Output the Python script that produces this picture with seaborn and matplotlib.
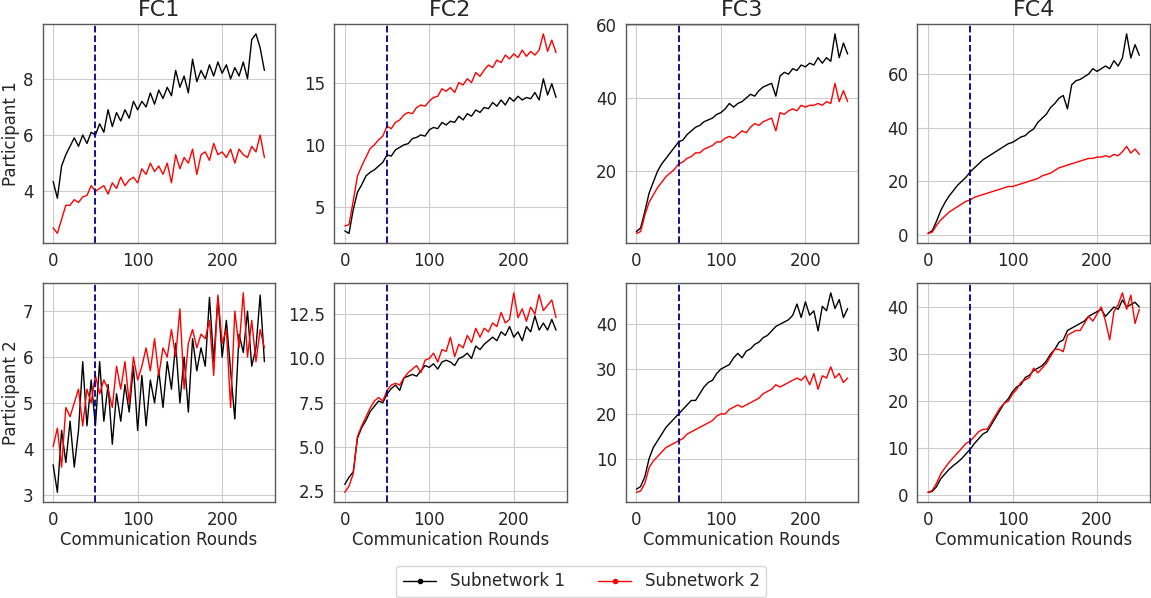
import pandas as pd
import matplotlib
matplotlib.use('Agg')
import matplotlib.pyplot as plt
from matplotlib.lines import Line2D
import seaborn as sns

sns.set_style('whitegrid', {'axes.edgecolor': '0.35', 'grid.color': '0.8'})
plt.rcParams['font.family'] = ['DejaVu Sans']

# communication rounds, sampled every 5 rounds
rounds = list(range(0, 251, 5))

layers = ['FC1', 'FC2', 'FC3', 'FC4']
participants = ['Participant 1', 'Participant 2']
subnetworks = ['Subnetwork 1', 'Subnetwork 2']

# participant 1
p1_fc1_sub1 = [4.35, 3.75, 4.9, 5.3, 5.6, 5.9, 5.6, 6.0, 5.7, 6.1, 6.0, 6.4, 6.1, 6.9, 6.3, 6.8,
               6.5, 6.9, 6.6, 7.2, 6.9, 7.2, 7.0, 7.5, 7.1, 7.6, 7.3, 7.7, 7.4, 8.3, 7.7, 8.1,
               7.5, 8.7, 7.9, 8.3, 8.0, 8.5, 8.1, 8.6, 8.2, 8.5, 8.0, 8.4, 8.1, 8.6, 8.0, 9.4,
               9.6, 9.1, 8.3]
p1_fc1_sub2 = [2.7, 2.5, 3.0, 3.5, 3.5, 3.7, 3.6, 3.8, 3.85, 4.2, 4.0, 4.1, 4.2, 3.9, 4.3, 4.1,
               4.5, 4.2, 4.4, 4.5, 4.3, 4.8, 4.6, 5.0, 4.7, 4.9, 4.6, 5.0, 4.3, 5.3, 4.8, 5.2,
               5.0, 5.5, 4.6, 5.3, 5.4, 5.1, 5.7, 5.3, 5.4, 5.2, 5.5, 5.0, 5.5, 5.3, 5.2, 5.6,
               5.4, 6.0, 5.2]
p1_fc2_sub1 = [3.1, 2.9, 4.8, 6.2, 6.8, 7.5, 7.8, 8.0, 8.3, 8.6, 9.2, 9.1, 9.6, 9.8, 10.0, 10.1,
               10.5, 10.6, 10.8, 10.7, 11.2, 11.4, 11.3, 11.8, 11.6, 11.9, 11.8, 12.3, 12.0, 12.5,
               12.3, 12.8, 12.6, 13.0, 12.9, 13.4, 13.1, 13.6, 13.2, 13.8, 13.5, 13.9, 13.6, 13.8,
               13.7, 14.2, 13.6, 15.3, 14.0, 14.9, 13.8]
p1_fc2_sub2 = [3.5, 3.6, 5.5, 7.5, 8.3, 9.0, 9.7, 10.0, 10.4, 10.7, 11.5, 11.3, 11.8, 12.0, 12.4,
               12.6, 12.5, 13.0, 13.2, 13.1, 13.5, 13.8, 13.9, 14.5, 14.3, 14.6, 14.2, 15.0, 14.8,
               15.3, 15.0, 15.8, 15.5, 16.0, 16.4, 16.2, 16.8, 16.6, 17.2, 16.9, 17.3, 17.0, 17.6,
               17.1, 17.5, 17.2, 17.6, 18.9, 17.5, 18.4, 17.4]
p1_fc3_sub1 = [3.5, 4.5, 9, 14, 17, 20, 22, 23.5, 25, 26.5, 28, 28.5, 30, 31, 32, 32.5, 33.5, 34,
               34.5, 35.5, 36, 37, 38.5, 37.5, 38.5, 39, 40, 41, 40.5, 42, 43, 43.5, 44, 40.5, 46,
               47, 46.5, 48, 47.5, 49, 48.5, 49.5, 49, 51, 49.5, 51, 50, 57.5, 51, 55, 52]
p1_fc3_sub2 = [3, 3.5, 8, 11.5, 13.5, 15.5, 17, 18.5, 19.5, 20.5, 22, 22.5, 23.5, 24, 25, 25, 26,
               26.5, 27, 28, 28, 29, 29.5, 29, 30, 31, 30.5, 32, 33, 32.5, 33.5, 34, 34.5, 31, 36,
               35.5, 36.5, 37, 36.5, 38, 37.5, 38, 38, 38.5, 38, 39, 38.5, 44, 39, 42, 39]
p1_fc4_sub1 = [0.5, 1.5, 5, 9, 12, 14.5, 16.5, 18.5, 20, 21.5, 23.5, 25, 26.5, 28, 29, 30, 31, 32,
               33, 34, 34.5, 35.5, 36.5, 37, 38.5, 39.5, 42, 43.5, 45, 47.5, 49, 51, 52, 47, 56,
               57.5, 58, 59, 60, 62, 61, 62, 63, 62, 65, 63, 66, 75, 66, 71, 67]
p1_fc4_sub2 = [0.5, 1, 3.5, 5.5, 7, 8.5, 9.5, 10.5, 11.5, 12.5, 13, 14, 14.5, 15, 15.5, 16, 16.5,
               17, 17.5, 18, 18, 18.5, 19, 19.5, 20, 20.5, 21, 22, 22.5, 23, 24, 25, 25.5, 26,
               26.5, 27, 27.5, 28, 28.5, 28.5, 29, 29, 29.5, 29, 30, 29.5, 31, 33, 30.5, 32, 30]

# participant 2
p2_fc1_sub1 = [3.65, 3.05, 4.4, 3.7, 4.6, 3.6, 4.4, 5.9, 4.5, 5.5, 4.5, 5.9, 4.6, 5.4, 4.1, 5.2,
               4.6, 5.4, 4.8, 5.8, 4.4, 5.6, 4.5, 5.5, 5.0, 5.7, 4.9, 5.9, 5.3, 6.3, 5.0, 6.0,
               4.8, 6.4, 5.7, 6.2, 5.8, 7.3, 5.9, 7.3, 6.0, 6.8, 5.7, 4.65, 6.5, 6.1, 7.0, 5.8,
               6.2, 7.35, 5.9]
p2_fc1_sub2 = [4.05, 4.45, 3.6, 4.9, 4.7, 5.0, 5.3, 4.5, 5.3, 5.0, 5.6, 5.2, 5.5, 5.3, 4.9, 5.8,
               5.3, 5.9, 5.0, 6.0, 5.5, 5.8, 6.2, 5.7, 6.4, 5.6, 6.2, 6.0, 6.6, 6.0, 7.05, 5.3,
               6.3, 6.6, 6.2, 6.5, 6.4, 6.8, 5.6, 7.35, 6.3, 6.6, 4.9, 7.0, 6.2, 7.4, 6.0, 6.8,
               5.9, 6.6, 6.2]
p2_fc2_sub1 = [2.9, 3.3, 3.6, 5.5, 6.1, 6.5, 7.0, 7.3, 7.6, 7.5, 8.0, 8.3, 8.5, 8.2, 8.9, 9.0,
               9.1, 9.0, 9.3, 9.6, 9.5, 9.7, 9.4, 9.8, 9.9, 9.8, 9.6, 10.0, 10.1, 10.3, 10.0, 10.7,
               10.5, 10.8, 11.0, 11.2, 11.0, 11.5, 11.3, 11.8, 11.2, 11.5, 11.0, 11.8, 11.5, 12.4,
               11.6, 12.0, 11.6, 12.2, 11.6]
p2_fc2_sub2 = [2.45, 2.8, 3.5, 5.6, 6.2, 6.7, 7.2, 7.6, 7.8, 7.6, 8.2, 8.5, 8.6, 8.5, 8.9, 9.2,
               9.4, 9.6, 9.2, 9.9, 10.0, 10.3, 9.8, 10.5, 10.4, 11.2, 10.1, 10.8, 10.6, 11.3, 10.9,
               11.7, 11.2, 11.7, 11.5, 12.0, 11.8, 12.6, 12.0, 12.2, 13.7, 12.3, 12.8, 12.1, 12.9,
               12.5, 13.6, 12.7, 13.0, 13.3, 12.3]
p2_fc3_sub1 = [3.2, 3.8, 6, 10, 12.5, 14, 15.5, 17, 18, 19, 20, 21, 22, 23, 23, 24.5, 26, 27,
               27.5, 29, 30, 30.5, 31, 32.5, 33.5, 32.5, 34, 34.5, 35.5, 36, 37, 37.5, 38.5, 39.5,
               40, 40.5, 41, 42, 44.5, 41.5, 45, 42, 43, 38.5, 44, 43, 47, 43.5, 45.5, 41.5, 43.5]
p2_fc3_sub2 = [2.5, 2.8, 4.5, 8, 9.5, 10.5, 11.5, 12.5, 13, 13.5, 14, 14.5, 15.5, 16, 16.5, 17,
               17.5, 18, 18.5, 19.5, 20, 20, 21, 21.5, 22, 21.5, 22, 22.5, 23, 23.5, 24.5, 25,
               25.5, 26.5, 26, 26.5, 27, 27.5, 28, 27.5, 28.5, 26.5, 29, 25.5, 28.5, 28, 30.5, 28,
               29, 27, 28]
p2_fc4_sub1 = [0.6, 0.8, 1.8, 3.5, 4.5, 5.5, 6.3, 7, 7.8, 8.8, 9.8, 11, 12, 13, 13.5, 15, 16.5,
               18, 19.5, 20.5, 22, 23, 23.5, 25, 25.5, 26.5, 27, 27.5, 28.5, 30, 31, 32.5, 33, 35,
               35.5, 36, 36.5, 37, 38, 38.5, 39, 39.5, 38, 39, 40, 39.5, 41.5, 40, 40.5, 41, 40]
p2_fc4_sub2 = [0.6, 1, 2.5, 4.5, 5.8, 7, 8, 9, 10, 11, 11.5, 12.5, 13.5, 14, 14, 15.5, 17, 18.5,
               19.5, 20, 21.5, 22.5, 24, 24.5, 25, 27, 26, 27, 28, 29.5, 31, 31, 30.5, 34, 34.5,
               35, 35, 36.5, 38, 37, 38.5, 40, 37, 33, 39, 40.5, 43, 39.5, 42.5, 36.5, 39.5]

yticks = [[[4, 6, 8], [5, 10, 15], [20, 40, 60], [0, 20, 40, 60]],
          [[3, 4, 5, 6, 7], [2.5, 5.0, 7.5, 10.0, 12.5], [10, 20, 30, 40], [0, 10, 20, 30, 40]]]

series = {
    (0, 0): (p1_fc1_sub1, p1_fc1_sub2), (0, 1): (p1_fc2_sub1, p1_fc2_sub2),
    (0, 2): (p1_fc3_sub1, p1_fc3_sub2), (0, 3): (p1_fc4_sub1, p1_fc4_sub2),
    (1, 0): (p2_fc1_sub1, p2_fc1_sub2), (1, 1): (p2_fc2_sub1, p2_fc2_sub2),
    (1, 2): (p2_fc3_sub1, p2_fc3_sub2), (1, 3): (p2_fc4_sub1, p2_fc4_sub2),
}
colors = ['black', 'red']

fig, axes = plt.subplots(2, 4, figsize=(11.51, 5.98), dpi=100)
fig.subplots_adjust(left=0.037, right=0.999, top=0.96, bottom=0.16,
                    wspace=0.255, hspace=0.18)

for (r, c), (s1, s2) in series.items():
    ax = axes[r, c]
    df = pd.DataFrame({'round': rounds, subnetworks[0]: s1, subnetworks[1]: s2})
    for name, col in zip(subnetworks, colors):
        sns.lineplot(data=df, x='round', y=name, color=col, lw=1, ax=ax)
    ax.axvline(50, color='darkblue', ls='--', lw=1.3)
    ax.set_xticks([0, 100, 200])
    ax.set_yticks(yticks[r][c])
    if r == 1 and c == 1:
        ax.set_yticklabels(['2.5', '5.0', '7.5', '10.0', '12.5'])
    ax.tick_params(labelsize=12, pad=3)
    ax.set_xlabel('Communication Rounds' if r == 1 else '', fontsize=12, labelpad=1)
    ax.set_ylabel(participants[r] if c == 0 else '', fontsize=12, labelpad=2)
    if r == 0:
        ax.set_title(layers[c], fontsize=16)
    for sp in ax.spines.values():
        sp.set_linewidth(1)

handles = [Line2D([], [], color=col, lw=1, marker='o', markersize=3)
           for col in colors]
fig.legend(handles, subnetworks, loc='upper center', bbox_to_anchor=(0.505, 0.068),
           ncol=2, fontsize=12, frameon=True)

fig.savefig('out.png', dpi=100)
